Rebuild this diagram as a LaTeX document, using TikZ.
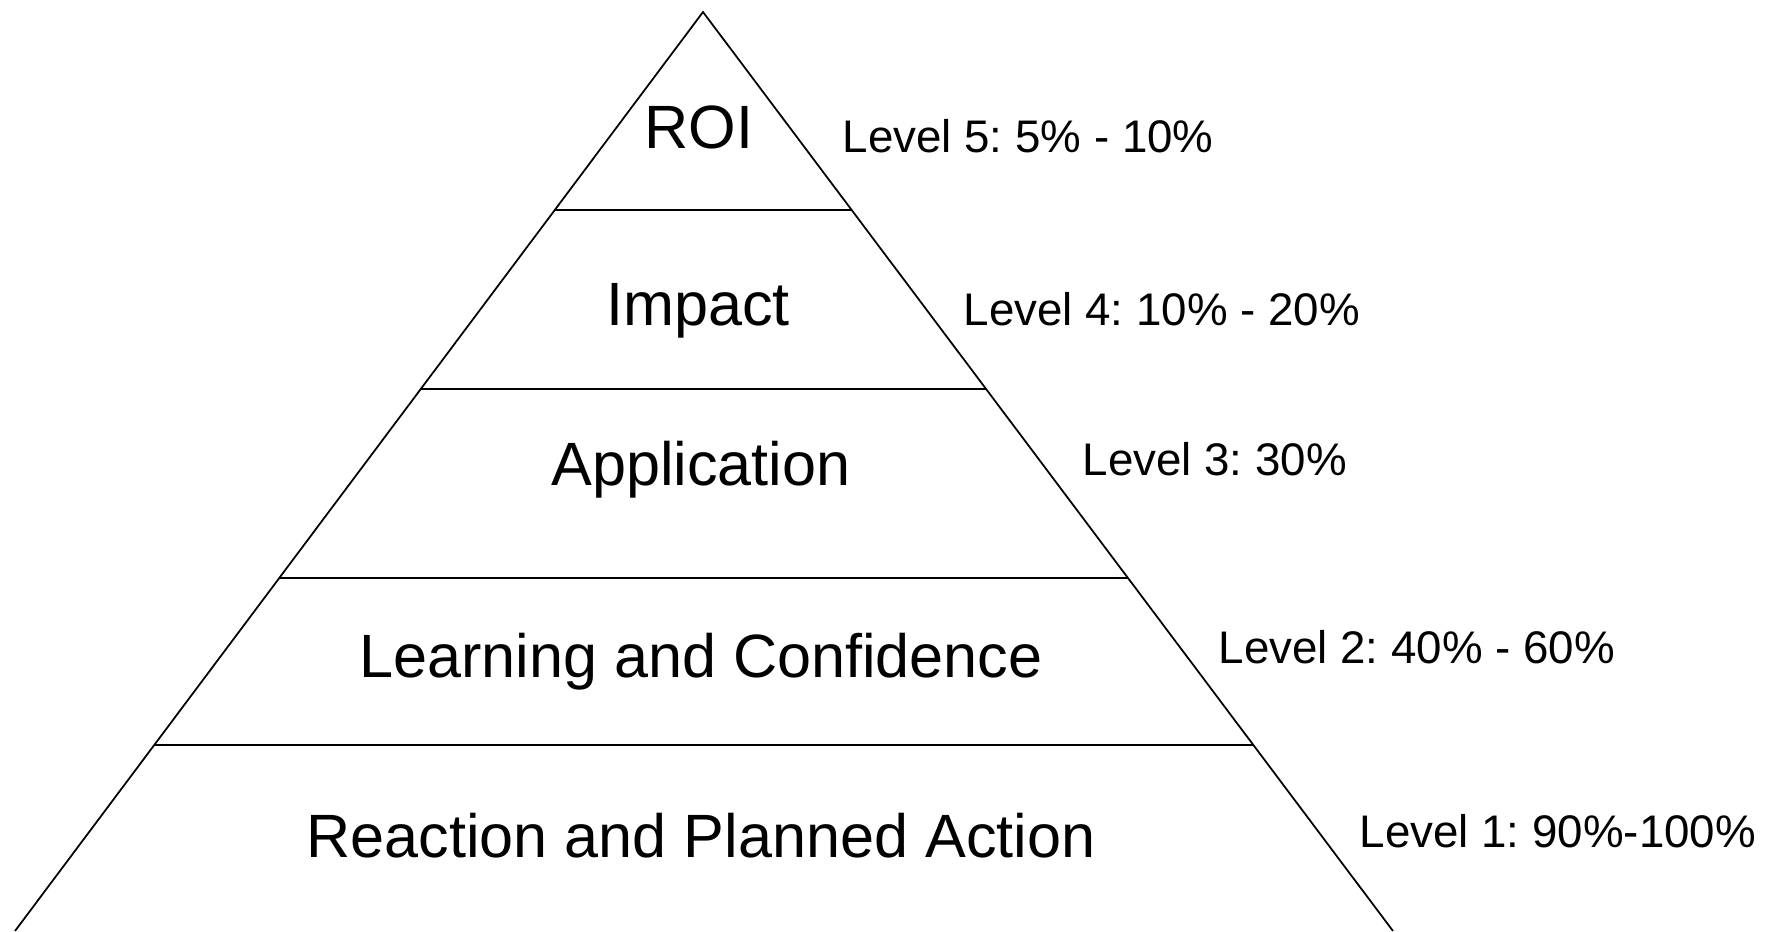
\documentclass[tikz,border=0pt]{standalone}
\usepackage{fontspec}
\setmainfont{Liberation Sans}
\frenchspacing
\usetikzlibrary{calc}
\tikzset{
  side/.style={line width=.5pt},
  tier/.style={line width=.8pt},
  lvlname/.style={anchor=base,font=\fontsize{17.4}{20}\selectfont,inner sep=0pt},
  share/.style={anchor=base west,font=\fontsize{13}{15}\selectfont,inner sep=0pt}
}
\begin{document}
\begin{tikzpicture}
  \useasboundingbox (0,0) rectangle (17.67,9.31);
  % corners
  \coordinate (apex) at (7.03,9.19);
  \coordinate (bl) at (0.15,0);
  \coordinate (br) at (13.93,0);
  % outline
  \draw[side] (bl) -- (apex) -- (br);
  % level dividers
  \foreach \y [count=\i] in {7.21,5.42,3.53,1.86}{
    \coordinate (l\i) at ($(apex)!{(9.19-\y)/9.19}!(bl)$);
    \coordinate (r\i) at ($(apex)!{(9.19-\y)/9.19}!(br)$);
    \draw[tier] (l\i) -- (r\i);
  }
  % level names
  \node[lvlname] at(6.99,7.83)(roi){ROI};
  \node[lvlname] at(6.98,6.06)(impact){Impact};
  \node[lvlname] at(7.01,4.46)(appl){Application};
  \node[lvlname] at(7.01,2.54)(learn){Learning and Confidence};
  \node[lvlname] at(7.01,0.74)(react){Reaction and Planned Action};
  % shares
  \node[share] at(8.42,7.79)(s5){Level 5: 5\% - 10\%};
  \node[share] at(9.63,6.06)(s4){Level 4: 10\% - 20\%};
  \node[share] at(10.82,4.56)(s3){Level 3: 30\%};
  \node[share] at(12.18,2.68)(s2){Level 2: 40\% - 60\%};
  \node[share] at(13.59,0.84)(s1){Level 1: 90\%-100\%};
\end{tikzpicture}
\end{document}
